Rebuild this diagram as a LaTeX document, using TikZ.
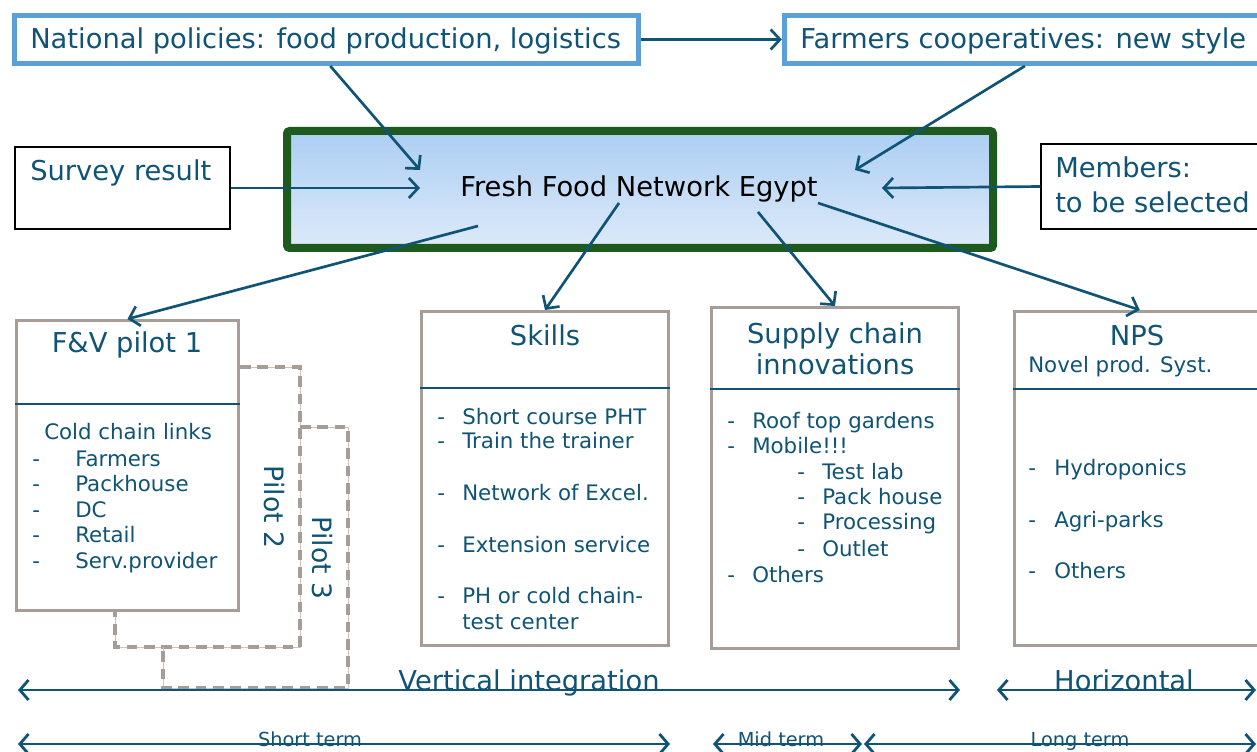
\documentclass[tikz,border=0pt]{standalone}
\usepackage{fontspec}
\setmainfont{DejaVu Sans}
\usetikzlibrary{arrows.meta,calc}
\definecolor{ink}{RGB}{16,84,117}
\definecolor{lblue}{RGB}{91,160,214}
\definecolor{bgrey}{RGB}{166,158,150}
\definecolor{dgreen}{RGB}{30,90,30}
\definecolor{shtop}{RGB}{172,206,243}
\definecolor{shmid}{RGB}{200,222,247}
\definecolor{shbot}{RGB}{221,234,249}
\begin{document}
\begin{tikzpicture}[x=0.75pt,y=-0.75pt,
  big/.style={font=\fontsize{20.5pt}{24pt}\selectfont, text=ink, inner sep=0pt},
  small/.style={font=\fontsize{16pt}{19pt}\selectfont, text=ink, inner sep=0pt},
  tiny/.style={font=\fontsize{14.5pt}{17pt}\selectfont, text=ink, inner sep=0pt},
  bluebox/.style={draw=lblue, line width=3.75pt, fill=white, inner sep=0pt},
  greybox/.style={draw=bgrey, line width=2.25pt, fill=white, inner sep=0pt},
  thinbox/.style={draw=black, line width=1.1pt, fill=white, inner sep=0pt},
  conn/.style={draw=ink, line width=2pt, -{Straight Barb[length=7pt,width=15pt,line width=2pt]}},
  sepline/.style={draw=ink, line width=1.6pt},
  span/.style={draw=ink, line width=2.1pt, {Straight Barb[length=6.5pt,width=15pt,line width=2.1pt]}-{Straight Barb[length=6.5pt,width=15pt,line width=2.1pt]}},
  pilotline/.style={draw=bgrey, line width=2.6pt, dash pattern=on 8pt off 5pt},
  faint/.style={draw=bgrey!60, line width=0.6pt}
]
\useasboundingbox (0,0) rectangle (1257,752);

% ---------- top boxes ----------
\node[bluebox, minimum width=468pt, minimum height=36pt] (nat) at (326.5,39.5) {};
\node[big, anchor=base west] (natT) at (30,49) {National policies: food production, logistics};
\node[bluebox, minimum width=358pt, minimum height=36pt] (farm) at (1023,39.5) {};
\node[big, anchor=base west] (farmT) at (800,49) {Farmers cooperatives: new style};

\node[thinbox, minimum width=161.25pt, minimum height=61.5pt] (sur) at (122.5,188) {};
\node[big, anchor=base west] (surT) at (30,181) {Survey result};
\node[thinbox, minimum width=165.75pt, minimum height=63.75pt] (mem) at (1151.5,186.5) {};
\node[big, anchor=base west, align=left, font=\fontsize{20.5pt}{26.25pt}\selectfont] (memT) at (1055,213) {Members:\\to be selected};

% ---------- central box ----------
\node[draw=dgreen, line width=6pt, rounded corners=2pt, top color=shtop, middle color=shmid, bottom color=shbot,
      minimum width=529.5pt, minimum height=87.75pt, inner sep=0pt] (net) at (640,189.5) {};
\node[anchor=base, text=black, inner sep=0pt, font=\fontsize{20.5pt}{24pt}\selectfont] (netT) at (639,197) {Fresh Food Network Egypt};

% ---------- lower boxes ----------
\draw[faint] (240,367) -- (300,367) -- (300,647) -- (115,647) -- (115,612);
\draw[pilotline] (240,367) -- (300,367) -- (300,647) -- (115,647) -- (115,612);
\draw[faint] (300,427) -- (348,427) -- (348,688) -- (163,688) -- (163,647);
\draw[pilotline] (300,427) -- (348,427) -- (348,688) -- (163,688) -- (163,647);
\node[big, rotate=-90, font=\fontsize{20pt}{24pt}\selectfont] (p2) at (274,507) {Pilot 2};
\node[big, rotate=-90, font=\fontsize{20pt}{24pt}\selectfont] (p3) at (322,558) {Pilot 3};

\node[greybox, minimum width=166.5pt, minimum height=217.5pt] (fv) at (127.5,465.5) {};
\node[greybox, minimum width=185.25pt, minimum height=250.5pt] (sk) at (545,478.5) {};
\node[greybox, minimum width=185.25pt, minimum height=255.75pt] (sc) at (835,478) {};
\node[greybox, minimum width=187.9pt, minimum height=250.5pt] (nps) at (1139.75,478.5) {};

\draw[sepline] (fv.west |- 0,404) -- (fv.east |- 0,404);
\draw[sepline] (sk.west |- 0,388) -- (sk.east |- 0,388);
\draw[sepline] (sc.west |- 0,389) -- (sc.east |- 0,389);
\draw[sepline] (nps.west |- 0,389) -- (nps.east |- 0,389);

% titles
\node[big, anchor=base] (fvT) at (127,353) {F\&V pilot 1};
\node[big, anchor=base] (skT) at (545,345) {Skills};
\node[big, anchor=base, align=center, font=\fontsize{20.5pt}{23.25pt}\selectfont] (scT) at (835,374) {Supply chain\\innovations};
\node[big, anchor=base] (npsT) at (1137,345) {NPS};
\node[small, anchor=base west] (npsS) at (1028,373) {Novel prod. Syst.};

% F&V items
\node[small, anchor=base west] (fvH) at (44,439) {Cold chain links};
\foreach \t/\y [count=\i] in {Farmers/466, Packhouse/491, DC/517, Retail/542, Serv.provider/568}{
  \node[small, anchor=base west] (fvd\i) at (32,\y) {-};
  \node[small, anchor=base west] (fvi\i) at (75,\y) {\t};
}
% Skills items
\foreach \t/\y [count=\i] in {Short course PHT/424, Train the trainer/448, Network of Excel./500, Extension service/552, PH or cold chain-/603}{
  \node[small, anchor=base west] (skd\i) at (437,\y) {-};
  \node[small, anchor=base west] (ski\i) at (462,\y) {\t};
}
\node[small, anchor=base west] (ski6) at (462,629) {test center};
% Supply chain items
\foreach \t/\y [count=\i] in {Roof top gardens/428, Mobile!!!/453, Others/582}{
  \node[small, anchor=base west] (scd\i) at (727,\y) {-};
  \node[small, anchor=base west] (sci\i) at (752,\y) {\t};
}
\foreach \t/\y [count=\i] in {Test lab/479, Pack house/504, Processing/529, Outlet/556}{
  \node[small, anchor=base west] (scsd\i) at (797,\y) {-};
  \node[small, anchor=base west] (scsi\i) at (822,\y) {\t};
}
% NPS items
\foreach \t/\y [count=\i] in {Hydroponics/475, Agri-parks/527, Others/578}{
  \node[small, anchor=base west] (npsd\i) at (1028,\y) {-};
  \node[small, anchor=base west] (npsi\i) at (1054,\y) {\t};
}

% ---------- connectors ----------
\coordinate (tNat) at (420,170);
\coordinate (tSur) at (420,188);
\coordinate (tFarm) at (855,170);
\coordinate (tMem) at (882,188);
\coordinate (sFv) at (478,226);
\coordinate (sSk) at (619,203);
\coordinate (sSc) at (758,212);
\coordinate (sNps) at (818,203);

\draw[conn] (nat.east) -- (farm.west);
\draw[conn] ($(nat.south west)!0.506!(nat.south east)$) -- (tNat);
\draw[conn] (sur.east) -- (tSur);
\draw[conn] ($(farm.south west)!0.504!(farm.south east)$) -- (tFarm);
\draw[conn] (mem.west) -- (tMem);
\draw[conn] (sFv) -- (fv.north);
\draw[conn] (sSk) -- (sk.north);
\draw[conn] (sSc) -- (sc.north);
\draw[conn] (sNps) -- (nps.north);

% ---------- bottom spans ----------
\coordinate (vL) at (18,690);
\coordinate (vR) at (960,690);
\coordinate (hL) at (997,690);
\coordinate (hR) at (1256,690);
\coordinate (sL) at (18,744);
\coordinate (sR) at (670,744);
\coordinate (mL) at (713,744);
\coordinate (mR) at (862,744);
\coordinate (lL) at (864,744);
\coordinate (lR) at (1256,744);
\draw[span] (vL) -- (vR);
\draw[span] (hL) -- (hR);
\draw[span] (sL) -- (sR);
\draw[span] (mL) -- (mR);
\draw[span] (lL) -- (lR);
\node[big, anchor=base] (vT) at (529,690) {Vertical integration};
\node[big, anchor=base] (hT) at (1124,690) {Horizontal};
\node[tiny, anchor=base] (sT) at (310,746) {Short term};
\node[tiny, anchor=base] (mT) at (781,746) {Mid term};
\node[tiny, anchor=base] (lT) at (1080,746) {Long term};
\end{tikzpicture}
\end{document}
